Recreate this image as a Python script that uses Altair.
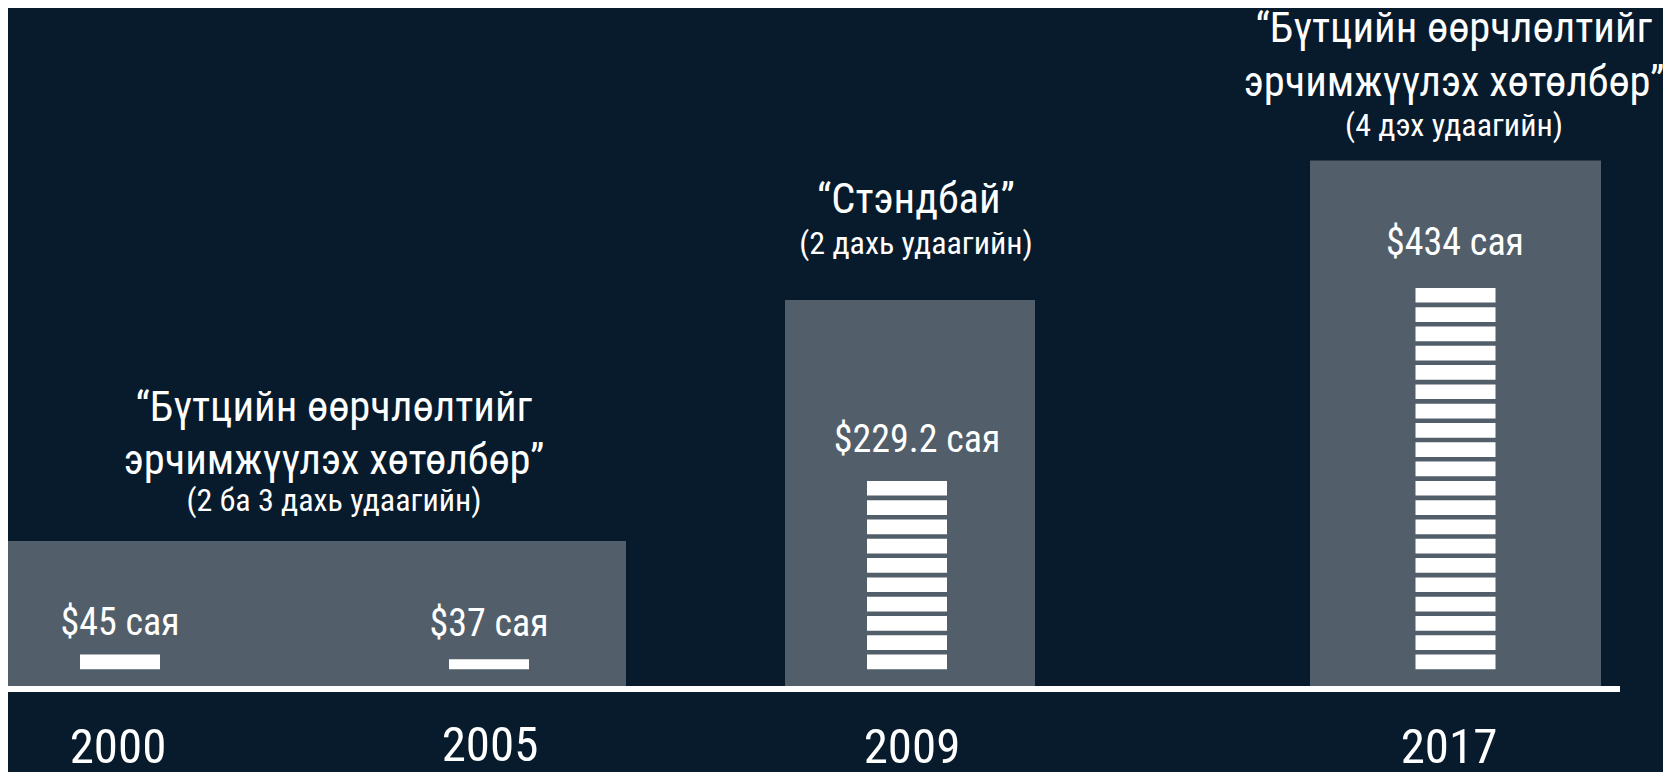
import altair as alt
import pandas as pd

BG = "#071b2c"
GRAY = "#525f6a"
WHITE = "#ffffff"
FONT = "'Roboto Condensed', 'Liberation Sans Narrow', 'DejaVu Sans Condensed', Roboto, sans-serif"

# ---- data (x in page pixels, y = height above the base line) ----
years = ["2000", "2005", "2009", "2017"]
amount_labels = ["$45 сая", "$37 сая", "$229.2 сая", "$434 сая"]
unit_counts = [1, 1, 10, 20]
top_unit_height = [14.7, 10.0, 14.7, 14.7]
group_x = [120, 489, 907, 1455.5]
label_x = [120, 489, 917, 1455]
label_y = [54.5, 53, 237, 434.5]
year_x = [118, 490, 912, 1449]
year_y = [-74, -72, -74, -74]

program_x = [8, 785, 1310]
program_x2 = [626, 1035, 1601]
program_top = [148, 389, 528.5]

title_text = [
    "“Бүтцийн өөрчлөлтийг", "эрчимжүүлэх хөтөлбөр”", "(2 ба 3 дахь удаагийн)",
    "“Стэндбай”", "(2 дахь удаагийн)",
    "“Бүтцийн өөрчлөлтийг", "эрчимжүүлэх хөтөлбөр”", "(4 дэх удаагийн)",
]
title_x = [334, 334, 334, 916, 916, 1454, 1454, 1454]
title_y = [268.5, 215, 178, 476.5, 435.5, 647.5, 593.5, 553.5]
title_size = [42.5, 42.5, 32, 42.5, 32, 42.5, 42.5, 32]

UNIT_BASE = 19.7
UNIT_PITCH = 19.3
UNIT_H = 14.7
BAR_W = 80

W, H = 1655, 764
xs = alt.Scale(domain=[8, 1663], nice=False, zero=False)
ys = alt.Scale(domain=[-83, 681], nice=False, zero=False)

programs = pd.DataFrame({"x": program_x, "x2": program_x2, "y": [3] * 3, "y2": program_top})

rows = []
for yr, n, th, cx in zip(years, unit_counts, top_unit_height, group_x):
    for i in range(n):
        b = UNIT_BASE + i * UNIT_PITCH
        h = th if i == n - 1 else UNIT_H
        rows.append({"year": yr, "x": cx - BAR_W / 2, "x2": cx + BAR_W / 2, "y": b, "y2": b + h})
units = pd.DataFrame(rows)

labels = pd.DataFrame({"x": label_x, "y": label_y, "t": amount_labels})
yearlab = pd.DataFrame({"x": year_x, "y": year_y, "t": years})
titles = pd.DataFrame({"x": title_x, "y": title_y, "t": title_text, "s": title_size})
baseline = pd.DataFrame({"x": [8], "x2": [1620], "y": [0]})

prog_layer = alt.Chart(programs).mark_rect(color=GRAY).encode(
    x=alt.X("x:Q", scale=xs, axis=None), x2="x2:Q",
    y=alt.Y("y:Q", scale=ys, axis=None), y2="y2:Q",
)
unit_layer = alt.Chart(units).mark_rect(color=WHITE).encode(
    x=alt.X("x:Q", scale=xs, axis=None), x2="x2:Q",
    y=alt.Y("y:Q", scale=ys, axis=None), y2="y2:Q",
)
base_layer = alt.Chart(baseline).mark_rule(color=WHITE, strokeWidth=6, strokeCap="butt").encode(
    x=alt.X("x:Q", scale=xs, axis=None), x2="x2:Q",
    y=alt.Y("y:Q", scale=ys, axis=None),
)
label_layer = alt.Chart(labels).mark_text(
    font=FONT, fontSize=38, color=WHITE, align="center", baseline="alphabetic"
).encode(
    x=alt.X("x:Q", scale=xs, axis=None), y=alt.Y("y:Q", scale=ys, axis=None), text="t:N"
)
year_layer = alt.Chart(yearlab).mark_text(
    font=FONT, fontSize=49, color=WHITE, align="center", baseline="alphabetic"
).encode(
    x=alt.X("x:Q", scale=xs, axis=None), y=alt.Y("y:Q", scale=ys, axis=None), text="t:N"
)
title_layer = alt.Chart(titles).mark_text(
    font=FONT, color=WHITE, align="center", baseline="alphabetic"
).encode(
    x=alt.X("x:Q", scale=xs, axis=None), y=alt.Y("y:Q", scale=ys, axis=None), text="t:N",
    size=alt.Size("s:Q", scale=None, legend=None),
)

chart = alt.layer(
    prog_layer, unit_layer, base_layer, label_layer, year_layer, title_layer
).properties(
    width=W, height=H, background=BG, padding=0,
    autosize=alt.AutoSizeParams(type="none"),
).configure_view(stroke=None, fill=BG)

chart.save("out.html", embed_options={"renderer": "svg", "actions": False})
